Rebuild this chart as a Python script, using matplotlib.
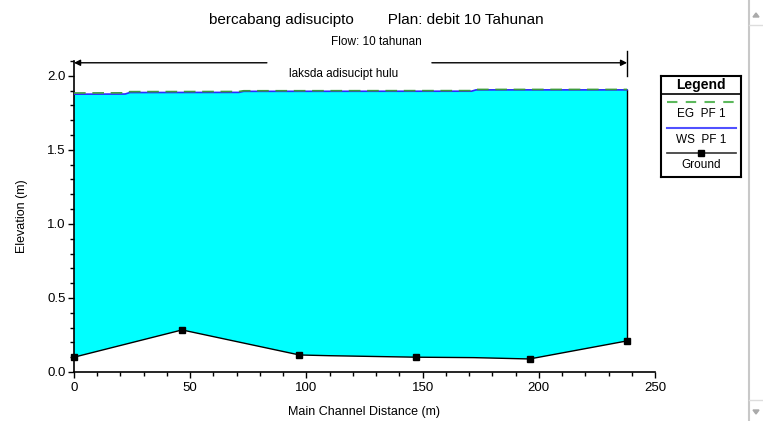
import matplotlib
matplotlib.use("Agg")
import matplotlib.pyplot as plt
from matplotlib.lines import Line2D
from matplotlib.patches import Polygon
import numpy as np

plt.rcParams['font.family'] = ['Liberation Sans', 'DejaVu Sans']

# ---- data ----
ground_x = [0, 46.5, 97, 110, 147, 172, 196, 238]
ground_y = [0.10, 0.284, 0.115, 0.110, 0.100, 0.097, 0.088, 0.210]
ground_marked = [0, 1, 2, 4, 6, 7]

ws_x = [0, 22, 24, 71, 73, 171, 173, 238]
ws_y = [1.876, 1.877, 1.887, 1.888, 1.895, 1.896, 1.905, 1.905]
eg_y = [1.884, 1.885, 1.893, 1.894, 1.899, 1.900, 1.908, 1.908]

reach_start, reach_end = 0, 238
reach_label = "laksda adisucipt hulu"
title = "bercabang adisucipto        Plan: debit 10 Tahunan"
subtitle = "Flow: 10 tahunan"

W, H = 763, 421
fig = plt.figure(figsize=(W / 100, H / 100), dpi=100)
fig.patch.set_facecolor('white')

def fx(px):
    return px / W

def fy(py):
    return 1 - py / H

ax = fig.add_axes([fx(74), fy(372), fx(655) - fx(74), fy(61) - fy(372)])
ax.set_xlim(0, 250)
ax.set_ylim(0, 2.1)

# water fill
poly_x = list(ws_x) + list(ground_x[::-1])
poly_y = list(ws_y) + list(ground_y[::-1])
ax.fill(poly_x, poly_y, color='#00FFFF', lw=0, zorder=1)
# right boundary
ax.plot([ws_x[-1], ground_x[-1]], [ws_y[-1], ground_y[-1]], color='black', lw=1, zorder=3)

ax.plot(ws_x, ws_y, color='#2B2BFF', lw=1.2, zorder=4)
ax.plot(ws_x, eg_y, color='#3C9A3C', lw=1.2, dashes=(7, 4), zorder=5)
ax.plot(ground_x, ground_y, color='black', lw=1, marker='s', ms=4.5,
        markevery=ground_marked, zorder=6, clip_on=False)

for s in ['top', 'right']:
    ax.spines[s].set_visible(False)
ax.spines['left'].set_linewidth(1.2)
ax.spines['bottom'].set_linewidth(1.2)

ax.set_xticks(np.arange(0, 251, 50))
ax.set_xticks(np.arange(0, 251, 10), minor=True)
ax.set_yticks(np.arange(0, 2.01, 0.5))
ax.set_yticks(np.arange(0, 2.11, 0.1), minor=True)
ax.set_yticklabels([f"{v:.1f}" for v in np.arange(0, 2.01, 0.5)])
ax.tick_params(which='major', direction='out', length=4, width=1, labelsize=9.5, colors='black')
ax.tick_params(which='minor', direction='out', length=3, width=1)
ax.tick_params(axis='x', pad=3)
ax.tick_params(axis='y', pad=2)

ax.set_xlabel("Main Channel Distance (m)", fontsize=9, labelpad=9)
ax.set_ylabel("Elevation (m)", fontsize=9, labelpad=14)

# reach annotation
ya = 2.088
ax.annotate('', xy=(reach_start, ya), xytext=(83, ya),
            arrowprops=dict(arrowstyle='-|>', color='black', lw=1, mutation_scale=9,
                            shrinkA=0, shrinkB=0), annotation_clip=False)
ax.annotate('', xy=(reach_end, ya), xytext=(154, ya),
            arrowprops=dict(arrowstyle='-|>', color='black', lw=1, mutation_scale=9,
                            shrinkA=0, shrinkB=0), annotation_clip=False)
ax.plot([reach_end, reach_end], [2.0, 2.165], color='black', lw=1, clip_on=False)
ax.text(116, 2.01, reach_label, ha='center', va='center', fontsize=8.5)

fig.text(fx(376), fy(20), title, ha='center', va='center', fontsize=11)
fig.text(fx(376), fy(42), subtitle, ha='center', va='center', fontsize=8.5)

# legend box
lax = fig.add_axes([fx(661), fy(177), fx(741) - fx(661), fy(76) - fy(177)])
lax.set_xlim(0, 80)
lax.set_ylim(101, 0)
lax.set_xticks([])
lax.set_yticks([])
for s in lax.spines.values():
    s.set_linewidth(1.5)
lax.text(40, 9, "Legend", ha='center', va='center', fontsize=10, fontweight='bold')
lax.plot([0, 80], [18, 18], color='black', lw=1.2)
lax.plot([6, 75], [26, 26], color='#5CB85C', lw=1.5, dashes=(5, 4))
lax.text(40, 38, "EG  PF 1", ha='center', va='center', fontsize=8.5)
lax.plot([6, 75], [52, 52], color='#5050FF', lw=1.5)
lax.text(40, 64, "WS  PF 1", ha='center', va='center', fontsize=8.5)
lax.plot([6, 75], [77, 77], color='#333333', lw=1.2)
lax.plot([40], [77], marker='s', color='black', ms=4.5)
lax.text(40, 89, "Ground", ha='center', va='center', fontsize=8.5)

# scrollbar at right edge
fig.add_artist(Line2D([fx(749), fx(749)], [0, 1], color='#C8C8C8', lw=1.5))
fig.add_artist(Line2D([fx(749), fx(763)], [fy(25), fy(25)], color='#DDDDDD', lw=1))
fig.add_artist(Line2D([fx(749), fx(763)], [fy(400), fy(400)], color='#DDDDDD', lw=1))
fig.add_artist(Polygon([[fx(753), fy(17)], [fx(759), fy(17)], [fx(756), fy(13)]],
                       closed=True, color='#AAAAAA'))
fig.add_artist(Polygon([[fx(753), fy(410)], [fx(759), fy(410)], [fx(756), fy(414)]],
                       closed=True, color='#AAAAAA'))

fig.savefig("out.png", dpi=100)
